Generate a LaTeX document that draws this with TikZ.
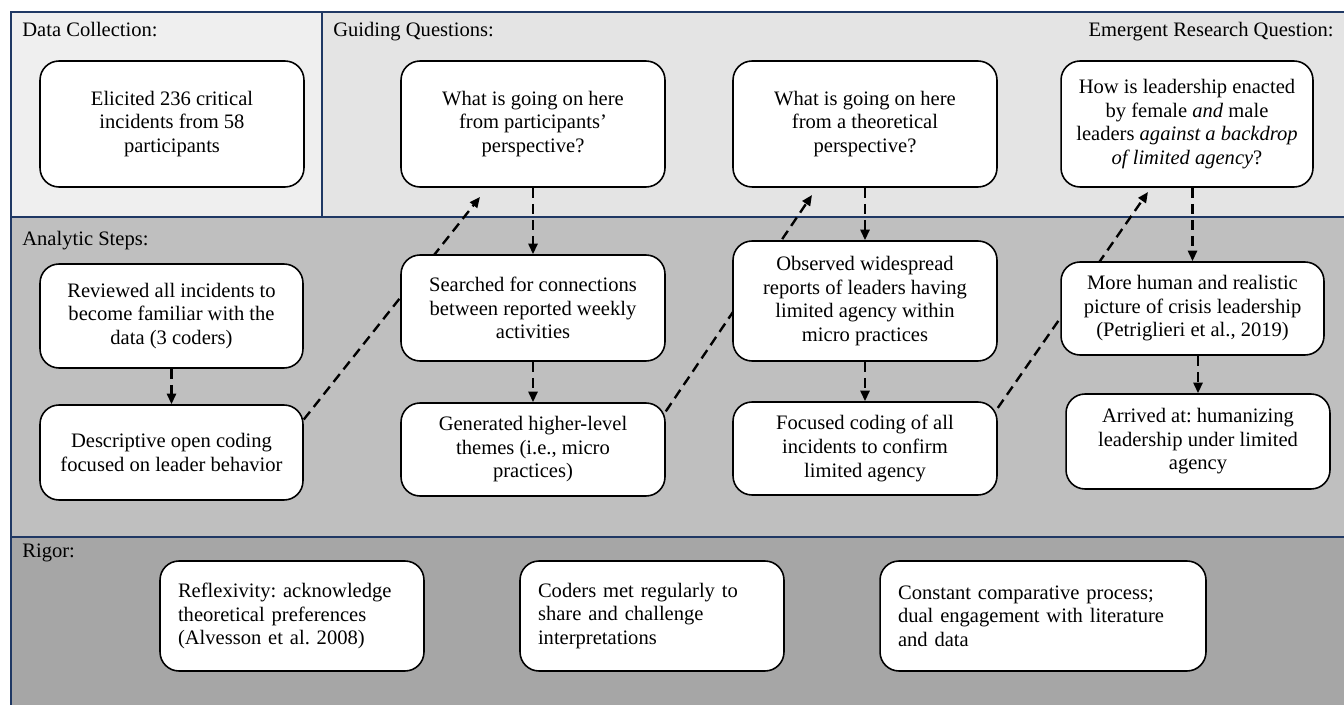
\documentclass[tikz,border=0pt]{standalone}
\usepackage{fontspec}
\setmainfont{Liberation Serif}
\usetikzlibrary{arrows.meta}
\usepackage{xcolor}
\frenchspacing

\definecolor{framenavy}{HTML}{1F3864}
\definecolor{datagray}{HTML}{EFEFEF}
\definecolor{guidegray}{HTML}{E4E4E4}
\definecolor{stepgray}{HTML}{BFBFBF}
\definecolor{rigorgray}{HTML}{A6A6A6}

\pgfdeclarelayer{panels}
\pgfdeclarelayer{links}
\pgfsetlayers{panels,links,main}

\begin{document}
\begin{tikzpicture}[x=0.02cm, y=-0.02cm, >={Triangle[length=0.21cm,width=0.18cm]},
    font=\fontsize{11.7}{13.4}\selectfont,
    box/.style={draw, line width=0.9pt, rounded corners=0.38cm, fill=white, align=center, minimum width=5.28cm},
    rigorbox/.style={box, align=left, minimum height=2.2cm, inner xsep=0.36cm, text width=4.56cm},
    header/.style={anchor=base west, inner sep=0pt},
    link/.style={->, line width=1.35pt, dash pattern=on 0.2cm off 0.12cm}]
    \useasboundingbox (0,0) rectangle (1344,705);

    % Panels
    \begin{pgfonlayer}{panels}
        \fill[datagray] (11,12) rectangle (322,217);
        \fill[guidegray] (322,12) rectangle (1346,217);
        \fill[stepgray] (11,217) rectangle (1346,537);
        \fill[rigorgray] (11,537) rectangle (1346,707);
        \draw[framenavy, line width=0.9pt] (11,707) -- (11,12) -- (1346,12);
        \draw[framenavy, line width=0.9pt] (322,12) -- (322,217);
        \draw[framenavy, line width=0.9pt] (11,217) -- (1346,217);
        \draw[framenavy, line width=0.9pt] (11,537) -- (1346,537);
    \end{pgfonlayer}

    \node[header] (lbldata) at (22,37) {Data Collection:};
    \node[header] (lblguide) at (333,37) {Guiding Questions:};
    \node[header, anchor=base east] (lblemerg) at (1334,37) {Emergent Research Question:};
    \node[header] (lblsteps) at (22,246) {Analytic Steps:};
    \node[header] (lblrigor) at (22,557) {Rigor:};

    % Questions
    \node[box, minimum height=2.52cm] (elicited) at (172,124) {Elicited 236 critical\\incidents from 58\\participants};
    \node[box, minimum height=2.52cm] (qpart) at (533,124) {What is going on here\\from participants’\\perspective?};
    \node[box, minimum height=2.52cm] (qtheo) at (865,124) {What is going on here\\from a theoretical\\perspective?};
    \node[box, minimum width=5.04cm, minimum height=2.52cm] (qemerg) at (1187,124) {How is leadership enacted\\by female \textit{and} male\\leaders \textit{against a backdrop}\\\textit{of limited agency}?};

    % Analytic steps
    \node[box, minimum width=5.26cm, minimum height=2.08cm] (reviewed) at (171.5,316) {Reviewed all incidents to\\become familiar with the\\data (3 coders)};
    \node[box, minimum width=5.26cm, minimum height=1.9cm] (descriptive) at (171.5,452.5) {Descriptive open coding\\focused on leader behavior};
    \node[box, minimum height=2.12cm] (searched) at (533,308) {Searched for connections\\between reported weekly\\activities};
    \node[box, minimum height=1.86cm] (generated) at (533,449.5) {Generated higher-level\\themes (i.e., micro\\practices)};
    \node[box, minimum height=2.4cm] (observed) at (865,301) {Observed widespread\\reports of leaders having\\limited agency within\\micro practices};
    \node[box, minimum height=1.86cm] (focused) at (865,448.5) {Focused coding of all\\incidents to confirm\\limited agency};
    \node[box, minimum width=5.26cm, minimum height=1.86cm] (morehuman) at (1192.5,308.5) {More human and realistic\\picture of crisis leadership\\(Petriglieri et al., 2019)};
    \node[box, minimum height=1.9cm] (arrived) at (1198,441.5) {Arrived at: humanizing\\leadership under limited\\agency};

    % Rigor
    \node[rigorbox] (reflex) at (292,616) {Reflexivity: acknowledge\\theoretical preferences\\(Alvesson et al. 2008)};
    \node[rigorbox] (coders) at (652,616) {Coders met regularly to\\share and challenge\\interpretations};
    \node[rigorbox, text width=5.8cm] (constant) at (1043,616) {Constant comparative process;\\dual engagement with literature\\and data};

    % Links
    \draw[link] (reviewed) -- (descriptive);
    \draw[link] (qpart) -- (searched);
    \draw[link] (searched) -- (generated);
    \draw[link] (qtheo) -- (observed);
    \draw[link] (observed) -- (focused);
    \draw[link] (qemerg.south -| morehuman.north) -- (morehuman.north);
    \draw[link] (morehuman.south -| arrived.north) -- (arrived.north);

    \coordinate (backpart) at (480,197);
    \coordinate (backtheo) at (812,195);
    \coordinate (backemerg) at (1148,192);
    \begin{pgfonlayer}{links}
        \draw[link] (descriptive.14) -- (backpart);
        \draw[link] (generated.16) -- (backtheo);
        \draw[link] (focused.17) -- (backemerg);
    \end{pgfonlayer}
\end{tikzpicture}
\end{document}
